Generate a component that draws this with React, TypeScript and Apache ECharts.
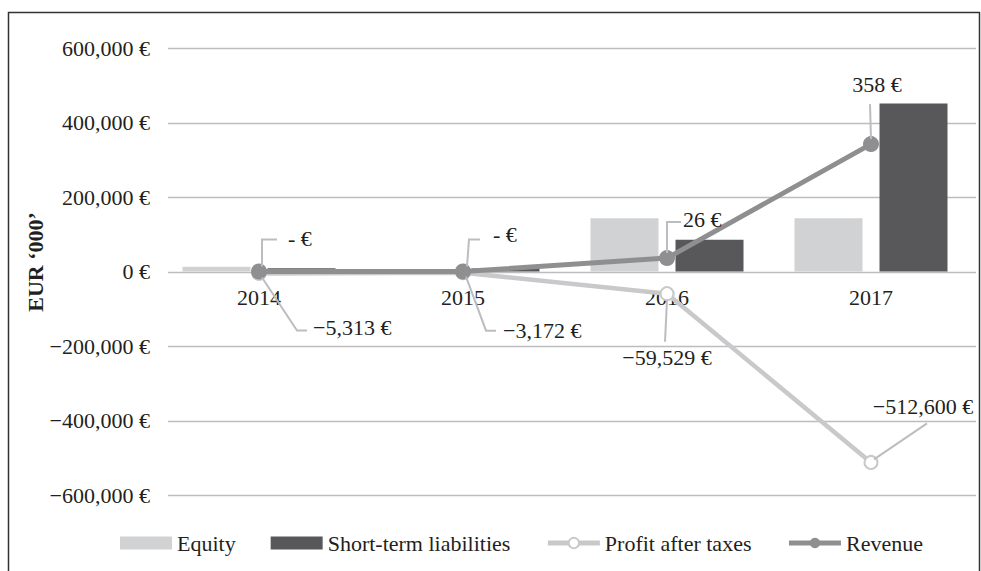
import React, { useEffect, useRef } from 'react';
import * as echarts from 'echarts';

const categories = ['2014', '2015', '2016', '2017'];
const equity = [13000, 5000, 143000, 143000];
const shortTermLiabilities = [9000, 8000, 85000, 451000];
const profitAfterTaxes = [-5313, -3172, -59529, -512600];
const revenue = [0, 0, 36000, 342000];
const revenueLabels = ['- €', '- €', '26 €', '358 €'];
const yTicks = [-600000, -400000, -200000, 0, 200000, 400000, 600000];

const FONT = '"Liberation Serif", "Times New Roman", serif';
const TEXT = '#231f20';
const FS = 22;

const C_EQUITY = '#d1d2d4';
const C_STL = '#58585a';
const C_PROFIT = '#c9c9cb';
const C_REVENUE = '#8f8f91';
const C_GRID = '#bdbdbf';
const C_LEADER = '#bcbdc0';

const fmtEuro = (v: number) => {
  const s = String(Math.abs(v)).replace(/\B(?=(\d{3})+(?!\d))/g, ',');
  return (v < 0 ? '\u2212' : '') + s + ' €';
};

type Leader = { line: number[][]; text: number[]; align: string };

const revLeaders: Leader[] = [
  { line: [[3, -5], [3, -32], [18, -32]], text: [29, -33], align: 'left' },
  { line: [[4, -5], [6, -32], [17, -32]], text: [30, -37], align: 'left' },
  { line: [[0, -5], [0, -36], [14, -36]], text: [16, -39], align: 'left' },
  { line: [[0, -5], [-1, -40]], text: [6, -60], align: 'center' },
];
const profLeaders: Leader[] = [
  { line: [[3, 4], [38, 57], [48, 57]], text: [54, 54], align: 'left' },
  { line: [[3, 4], [23, 58], [33, 58]], text: [40, 58], align: 'left' },
  { line: [[0, 6], [-2, 48]], text: [0, 64], align: 'center' },
  { line: [[3, -3], [56, -39]], text: [52, -56], align: 'center' },
];

export default function App() {
  const ref = useRef<HTMLDivElement>(null);
  useEffect(() => {
    if (!ref.current) return;
    const chart = echarts.init(ref.current, undefined, { renderer: 'svg' });
    chart.setOption({
      animation: false,
      backgroundColor: '#fff',
      grid: { left: 157, right: 8, top: 48, bottom: 76, containLabel: false },
      legend: {
        left: 115,
        top: 527,
        itemWidth: 52,
        itemHeight: 13,
        itemGap: 35,
        textStyle: { fontFamily: FONT, fontSize: FS, color: TEXT },
        data: [
          { name: 'Equity', icon: 'rect' },
          { name: 'Short-term liabilities', icon: 'rect' },
          { name: 'Profit after taxes', lineStyle: { width: 5 } },
          { name: 'Revenue', lineStyle: { width: 5 } },
        ],
      },
      xAxis: {
        type: 'category',
        data: categories,
        axisLine: { show: false },
        axisTick: { show: false },
        axisLabel: { show: false },
        splitLine: { show: false },
      },
      yAxis: {
        type: 'value',
        min: -600000,
        max: 600000,
        interval: 200000,
        axisLine: { show: false },
        axisTick: { show: false },
        splitLine: { show: false },
        axisLabel: {
          fontFamily: FONT,
          fontSize: FS,
          color: TEXT,
          margin: 7,
          formatter: (v: number) => fmtEuro(v),
        },
      },
      series: [
        {
          name: 'Equity',
          type: 'bar',
          data: equity,
          barGap: '25%',
          barCategoryGap: '25%',
          itemStyle: { color: C_EQUITY },
          z: 2,
        },
        {
          name: 'Short-term liabilities',
          type: 'bar',
          data: shortTermLiabilities,
          barGap: '25%',
          barCategoryGap: '25%',
          itemStyle: { color: C_STL },
          z: 2,
        },
        {
          name: 'Profit after taxes',
          type: 'line',
          data: profitAfterTaxes,
          symbol: 'emptyCircle',
          symbolSize: 13,
          lineStyle: { color: C_PROFIT, width: 4.5 },
          itemStyle: { color: C_PROFIT, borderColor: C_PROFIT, borderWidth: 3 },
          z: 3,
        },
        {
          name: 'Revenue',
          type: 'line',
          data: revenue,
          symbol: 'circle',
          symbolSize: 16,
          lineStyle: { color: C_REVENUE, width: 5 },
          itemStyle: { color: C_REVENUE },
          z: 4,
        },
      ],
    });

    const px = (i: number, v: number) =>
      chart.convertToPixel({ xAxisIndex: 0, yAxisIndex: 0 }, [i, v]) as number[];

    const elements: any[] = [];
    elements.push({
      type: 'rect',
      z: 0,
      shape: { x: 8.5, y: 12.5, width: 971, height: 600 },
      style: { fill: 'none', stroke: '#333', lineWidth: 1.5 },
    });
    yTicks.forEach((t) => {
      const y = Math.round(px(0, t)[1]) + 0.5;
      elements.push({
        type: 'line',
        z: 0,
        shape: { x1: 168, y1: y, x2: 976, y2: y },
        style: { stroke: C_GRID, lineWidth: 1.5 },
      });
    });
    categories.forEach((c, i) => {
      const p = px(i, 0);
      elements.push({
        type: 'text',
        z: 1,
        x: p[0],
        y: p[1] + 26,
        style: {
          text: c,
          fontFamily: FONT,
          fontSize: FS,
          fill: TEXT,
          align: 'center',
          verticalAlign: 'middle',
          textAlign: 'center',
          textVerticalAlign: 'middle',
        },
      });
    });
    elements.push({
      type: 'text',
      z: 10,
      x: 35,
      y: 262,
      rotation: Math.PI / 2,
      style: {
        text: 'EUR \u2018000\u2019',
        fontFamily: FONT,
        fontSize: FS,
        fontWeight: 'bold',
        fill: TEXT,
        align: 'center',
        verticalAlign: 'middle',
        textAlign: 'center',
        textVerticalAlign: 'middle',
      },
    });
    const addLabel = (p: number[], l: Leader, text: string) => {
      elements.push({
        type: 'polyline',
        z: 100,
        shape: { points: l.line.map((d) => [p[0] + d[0], p[1] + d[1]]) },
        style: { fill: 'none', stroke: C_LEADER, lineWidth: 2 },
      });
      elements.push({
        type: 'text',
        z: 100,
        x: p[0] + l.text[0],
        y: p[1] + l.text[1],
        style: {
          text,
          fontFamily: FONT,
          fontSize: FS,
          fill: TEXT,
          align: l.align,
          verticalAlign: 'middle',
          textAlign: l.align,
          textVerticalAlign: 'middle',
        },
      });
    };
    revenue.forEach((v, i) => addLabel(px(i, v), revLeaders[i], revenueLabels[i]));
    profitAfterTaxes.forEach((v, i) => addLabel(px(i, v), profLeaders[i], fmtEuro(v)));

    chart.setOption({ graphic: { elements } });

    return () => chart.dispose();
  }, []);

  return (
    <div
      ref={ref}
      style={{ position: 'absolute', left: 0, top: 0, width: 981, height: 571 }}
    />
  );
}
